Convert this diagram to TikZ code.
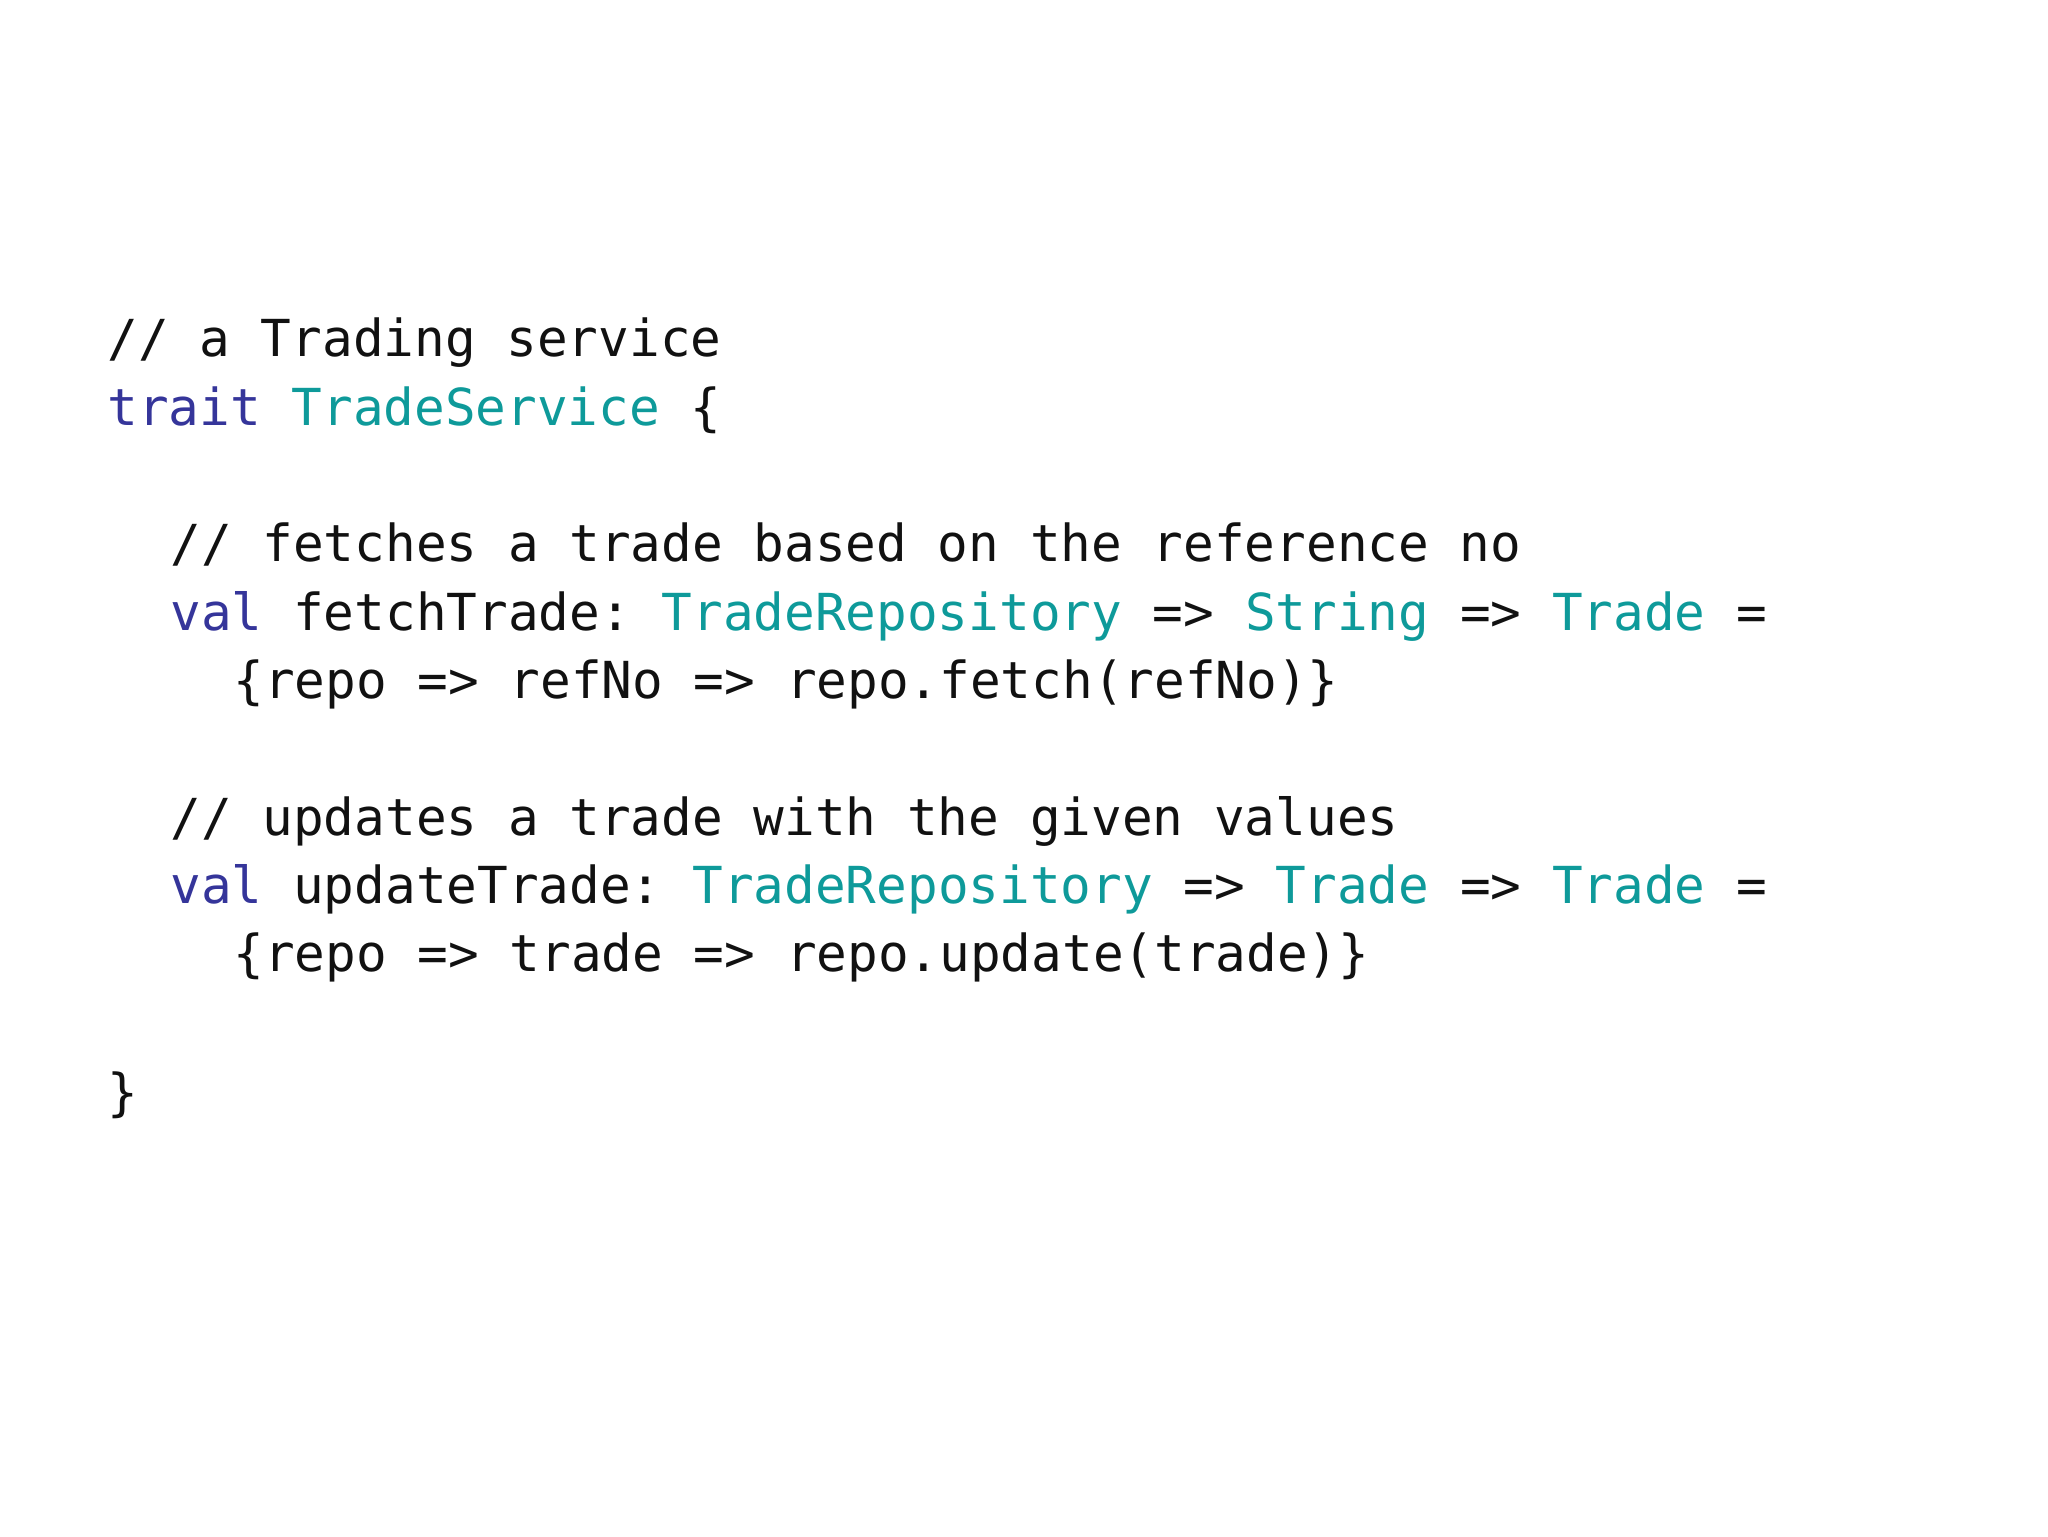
\documentclass[tikz,border=0pt]{standalone}
\usepackage{fontspec}
\setmonofont{DejaVu Sans Mono}
\definecolor{kw}{HTML}{35359A}
\definecolor{ty}{HTML}{0E9A9A}
\definecolor{tx}{HTML}{111111}
\newcommand{\K}[1]{\textcolor{kw}{#1}}
\newcommand{\T}[1]{\textcolor{ty}{#1}}
\tikzset{code/.style={anchor=base west,inner sep=0pt,font=\ttfamily\fontsize{25.5}{30}\selectfont,text=tx}}
\begin{document}
\begin{tikzpicture}[x=1pt,y=1pt]
\useasboundingbox (0,0) rectangle (1024,768);
\node[code] (l1) at (53.5,768-178.3) {// a Trading service};
\node[code] (l2) at (53.5,768-212.9) {\K{trait} \T{TradeService} \{};
\node[code] (l3) at (85,768-280.8) {// fetches a trade based on the reference no};
\node[code] (l4) at (85,768-315.4) {\K{val} fetchTrade: \T{TradeRepository} => \T{String} => \T{Trade} =};
\node[code] (l5) at (116.5,768-349.4) {\{repo => refNo => repo.fetch(refNo)\}};
\node[code] (l6) at (85,768-417.9) {// updates a trade with the given values};
\node[code] (l7) at (85,768-451.9) {\K{val} updateTrade: \T{TradeRepository} => \T{Trade} => \T{Trade} =};
\node[code] (l8) at (116.5,768-485.8) {\{repo => trade => repo.update(trade)\}};
\node[code] (l9) at (53.5,768-555.1) {\}};
\end{tikzpicture}
\end{document}
